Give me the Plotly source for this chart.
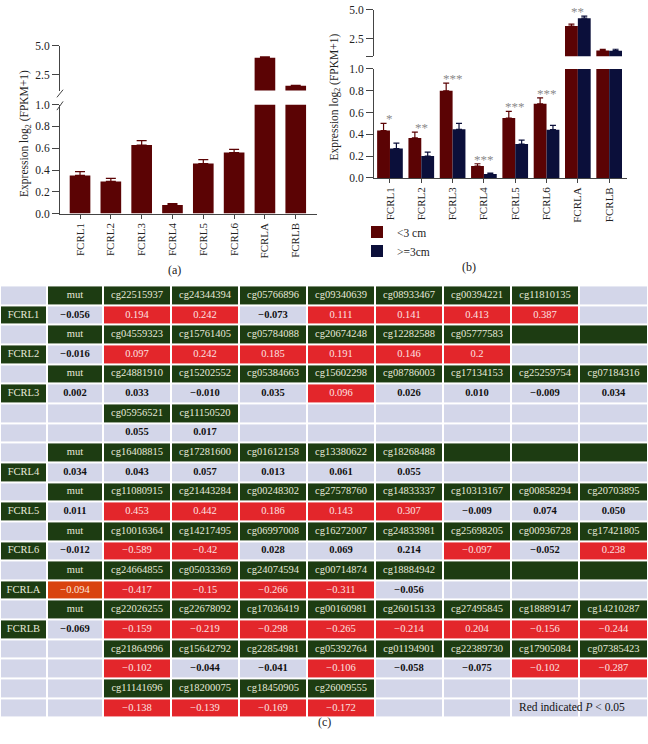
import plotly.graph_objects as go

# ---------------- data ----------------
genes = ["FCRL1", "FCRL2", "FCRL3", "FCRL4", "FCRL5", "FCRL6", "FCRLA", "FCRLB"]
expr_all = [0.35, 0.295, 0.63, 0.08, 0.46, 0.56, 3.95, 1.52]
expr_all_err = [0.035, 0.028, 0.04, 0.012, 0.035, 0.03, 0.08, 0.03]
expr_small = [0.434, 0.367, 0.80, 0.108, 0.55, 0.68, 3.61, 1.50]
expr_small_err = [0.066, 0.053, 0.07, 0.022, 0.06, 0.055, 0.17, 0.10]
expr_large = [0.27, 0.20, 0.446, 0.036, 0.31, 0.443, 4.29, 1.48]
expr_large_err = [0.05, 0.036, 0.054, 0.009, 0.036, 0.04, 0.17, 0.12]
sig_marks = ["*", "**", "***", "***", "***", "***", "**", ""]
legend_names = ["<3 cm", ">=3cm"]

# table rows (10 columns) and cell kinds: L=lavender, G=green, R=red (P<0.05), O=orange
table_rows = [
    ["", "mut", "cg22515937", "cg24344394", "cg05766896", "cg09340639", "cg08933467", "cg00394221", "cg11810135", ""],
    ["FCRL1", "−0.056", "0.194", "0.242", "−0.073", "0.111", "0.141", "0.413", "0.387", ""],
    ["", "mut", "cg04559323", "cg15761405", "cg05784088", "cg20674248", "cg12282588", "cg05777583", "", ""],
    ["FCRL2", "−0.016", "0.097", "0.242", "0.185", "0.191", "0.146", "0.2", "", ""],
    ["", "mut", "cg24881910", "cg15202552", "cg05384663", "cg15602298", "cg08786003", "cg17134153", "cg25259754", "cg07184316"],
    ["FCRL3", "0.002", "0.033", "−0.010", "0.035", "0.096", "0.026", "0.010", "−0.009", "0.034"],
    ["", "", "cg05956521", "cg11150520", "", "", "", "", "", ""],
    ["", "", "0.055", "0.017", "", "", "", "", "", ""],
    ["", "mut", "cg16408815", "cg17281600", "cg01612158", "cg13380622", "cg18268488", "", "", ""],
    ["FCRL4", "0.034", "0.043", "0.057", "0.013", "0.061", "0.055", "", "", ""],
    ["", "mut", "cg11080915", "cg21443284", "cg00248302", "cg27578760", "cg14833337", "cg10313167", "cg00858294", "cg20703895"],
    ["FCRL5", "0.011", "0.453", "0.442", "0.186", "0.143", "0.307", "−0.009", "0.074", "0.050"],
    ["", "mut", "cg10016364", "cg14217495", "cg06997008", "cg16272007", "cg24833981", "cg25698205", "cg00936728", "cg17421805"],
    ["FCRL6", "−0.012", "−0.589", "−0.42", "0.028", "0.069", "0.214", "−0.097", "−0.052", "0.238"],
    ["", "mut", "cg24664855", "cg05033369", "cg24074594", "cg00714874", "cg18884942", "", "", ""],
    ["FCRLA", "−0.094", "−0.417", "−0.15", "−0.266", "−0.311", "−0.056", "", "", ""],
    ["", "mut", "cg22026255", "cg22678092", "cg17036419", "cg00160981", "cg26015133", "cg27495845", "cg18889147", "cg14210287"],
    ["FCRLB", "−0.069", "−0.159", "−0.219", "−0.298", "−0.265", "−0.214", "0.204", "−0.156", "−0.244"],
    ["", "", "cg21864996", "cg15642792", "cg22854981", "cg05392764", "cg01194901", "cg22389730", "cg17905084", "cg07385423"],
    ["", "", "−0.102", "−0.044", "−0.041", "−0.106", "−0.058", "−0.075", "−0.102", "−0.287"],
    ["", "", "cg11141696", "cg18200075", "cg18450905", "cg26009555", "", "", "", ""],
    ["", "", "−0.138", "−0.139", "−0.169", "−0.172", "", "", "", ""],
]
table_kinds = [
    "LGGGGGGGGL",
    "GLRRLRRRRL",
    "LGGGGGGGGG",
    "GLRRRRRRLL",
    "LGGGGGGGGG",
    "GLLLLRLLLL",
    "LLGGLLLLLL",
    "LLLLLLLLLL",
    "LGGGGGGGGG",
    "GLLLLLLLLL",
    "LGGGGGGGGG",
    "GLRRRRRLLL",
    "LGGGGGGGGG",
    "GLRRLLLRLR",
    "LGGGGGGGGG",
    "GORRRRLLLL",
    "LGGGGGGGGG",
    "GLRRRRRRRR",
    "LLGGGGGGGG",
    "LLRLLRLLRR",
    "LLGGGGLLLL",
    "LLRRRRLLLL",
]
note_text = "Red indicated <i>P</i> < 0.05"

# ---------------- style ----------------
W, H = 648, 744
SERIF = "Liberation Serif, Times New Roman, serif"
RED_BAR = "#5b0304"
NAVY_BAR = "#0b0f3a"
AX = "#444444"
kind_code = {"L": 0, "G": 1, "R": 2, "O": 3}
C_L, C_G, C_R, C_O = "#d3d6e9", "#1d3c12", "#e3262b", "#d9430f"
fcolors = {"L": "#111111", "G": "#e8eadb", "R": "#fde2e2", "O": "#fde9df"}
col_edges = [0, 47, 103, 171, 239, 307, 375, 443, 511, 579, 648]  # table column edges (px-like units)


def px_x(p):
    return p / W


def px_y(p):
    return 1 - p / H


fig = go.Figure()
xs = list(range(len(genes)))

# ----- chart (a) -----
for ya, xa in (("y", "x"), ("y2", "x2")):
    fig.add_trace(go.Bar(
        x=xs, y=expr_all, xaxis=xa, yaxis=ya, width=0.67,
        marker=dict(color=RED_BAR, line=dict(width=0)),
        error_y=dict(type="data", array=expr_all_err, arrayminus=[0] * len(genes),
                     symmetric=False, color=RED_BAR, thickness=1.2, width=5),
        showlegend=False, hoverinfo="skip"))

# ----- chart (b) -----
for ya, xa, show in (("y3", "x3", True), ("y4", "x4", False)):
    fig.add_trace(go.Bar(
        x=xs, y=expr_small, xaxis=xa, yaxis=ya, width=0.41, offset=-0.41,
        name=legend_names[0], legendgroup="s", showlegend=show,
        marker=dict(color=RED_BAR, line=dict(width=0)),
        error_y=dict(type="data", array=expr_small_err, arrayminus=[0] * len(genes),
                     symmetric=False, color=RED_BAR, thickness=1.2, width=3),
        hoverinfo="skip"))
    fig.add_trace(go.Bar(
        x=xs, y=expr_large, xaxis=xa, yaxis=ya, width=0.41, offset=0,
        name=legend_names[1], legendgroup="l", showlegend=show,
        marker=dict(color=NAVY_BAR, line=dict(width=0)),
        error_y=dict(type="data", array=expr_large_err, arrayminus=[0] * len(genes),
                     symmetric=False, color=NAVY_BAR, thickness=1.2, width=3),
        hoverinfo="skip"))

# ----- table (c) as a heatmap grid + text -----
nrow = len(table_rows)
ncol = len(table_rows[0])
z = [[kind_code[k] for k in row] for row in table_kinds]
fig.add_trace(go.Heatmap(
    z=z, x=col_edges, y=list(range(nrow)), xaxis="x5", yaxis="y5",
    zmin=0, zmax=3, showscale=False, xgap=2, ygap=2, hoverinfo="skip",
    colorscale=[[0, C_L], [0.166, C_L], [0.166, C_G], [0.5, C_G],
                [0.5, C_R], [0.833, C_R], [0.833, C_O], [1, C_O]],
))

tx, ty, tt, tc = [], [], [], []
for r, (row, kinds) in enumerate(zip(table_rows, table_kinds)):
    for c, (txt, k) in enumerate(zip(row, kinds)):
        if not txt:
            continue
        tx.append((col_edges[c] + col_edges[c + 1]) / 2)
        ty.append(r)
        tt.append("<b>" + txt + "</b>" if k == "L" else txt)
        tc.append(fcolors[k])
fig.add_trace(go.Scatter(
    x=tx, y=ty, text=tt, mode="text", xaxis="x5", yaxis="y5",
    textfont=dict(family=SERIF, size=10.5, color=tc), textposition="middle center",
    showlegend=False, hoverinfo="skip"))

# note in last row
fig.add_trace(go.Scatter(
    x=[col_edges[8] + 8], y=[nrow - 1], text=[note_text], mode="text", xaxis="x5", yaxis="y5",
    textfont=dict(family=SERIF, size=11.5, color="#111"), textposition="middle right",
    showlegend=False, hoverinfo="skip", cliponaxis=False))

# ----- axes -----
tick_font = dict(family=SERIF, size=11.5, color="#222")
common_y = dict(showline=True, linecolor=AX, linewidth=1, ticks="outside", ticklen=7,
                tickcolor=AX, tickfont=tick_font, showgrid=False, zeroline=False, fixedrange=True)
common_x = dict(showline=True, linecolor=AX, linewidth=1, ticks="outside", ticklen=4,
                tickcolor=AX, tickfont=dict(family=SERIF, size=11, color="#222"),
                showgrid=False, zeroline=False,
                tickangle=-90, tickvals=xs, ticktext=genes, fixedrange=True)

fig.update_layout(
    xaxis=dict(domain=[px_x(60), px_x(316.7)], anchor="y", range=[-0.65, 7.68], **common_x),
    yaxis=dict(domain=[px_y(211), px_y(100.3)], anchor="x", range=[0, 1], tickvals=[0, 0.2, 0.4, 0.6, 0.8, 1.0],
               ticktext=["0.0", "0.2", "0.4", "0.6", "0.8", "1.0"], **common_y),
    xaxis2=dict(domain=[px_x(60), px_x(316.7)], anchor="y2", matches="x", visible=False),
    yaxis2=dict(domain=[px_y(86), px_y(40.3)], anchor="x2", range=[1.1, 5], tickvals=[2.5, 5.0],
                ticktext=["2.5", "5.0"], **common_y),
    xaxis3=dict(domain=[px_x(374), px_x(626.7)], anchor="y3", range=[-0.51, 7.56], **common_x),
    yaxis3=dict(domain=[px_y(174.7), px_y(64)], anchor="x3", range=[0, 1], tickvals=[0, 0.2, 0.4, 0.6, 0.8, 1.0],
                ticktext=["0.0", "0.2", "0.4", "0.6", "0.8", "1.0"], **common_y),
    xaxis4=dict(domain=[px_x(374), px_x(626.7)], anchor="y4", matches="x3", visible=False),
    yaxis4=dict(domain=[px_y(51), px_y(4)], anchor="x4", range=[1, 5], tickvals=[1, 2.5, 5.0],
                ticktext=["", "2.5", "5.0"], **common_y),
    xaxis5=dict(domain=[0, 1], anchor="y5", range=[col_edges[0], col_edges[-1]], visible=False,
                fixedrange=True),
    yaxis5=dict(domain=[px_y(723.5), px_y(284)], anchor="x5", range=[nrow - 0.5, -0.5], visible=False,
                fixedrange=True),
    barmode="overlay",
    width=W, height=H,
    margin=dict(l=0, r=0, t=0, b=0),
    paper_bgcolor="white", plot_bgcolor="white",
    showlegend=True,
    legend=dict(x=px_x(357), y=px_y(215), xanchor="left", yanchor="top",
                font=dict(family=SERIF, size=11.5, color="#222"), bgcolor="rgba(0,0,0,0)",
                tracegroupgap=0, itemwidth=30),
    font=dict(family=SERIF),
    hovermode=False,
)

# ----- annotations -----
ann = []
ylabel = "Expression log<sub>2</sub> (FPKM+1)"
ann.append(dict(text=ylabel, x=px_x(25), y=px_y(130), xref="paper", yref="paper", xanchor="center",
                yanchor="middle", textangle=-90, showarrow=False,
                font=dict(family=SERIF, size=11.5, color="#222")))
ann.append(dict(text=ylabel, x=px_x(334), y=px_y(93), xref="paper", yref="paper", xanchor="center",
                yanchor="middle", textangle=-90, showarrow=False,
                font=dict(family=SERIF, size=11.5, color="#222")))
ann.append(dict(text="(a)", x=px_x(166), y=px_y(268), xref="paper", yref="paper", showarrow=False,
                font=dict(family=SERIF, size=12, color="#222")))
ann.append(dict(text="(b)", x=px_x(478), y=px_y(265), xref="paper", yref="paper", showarrow=False,
                font=dict(family=SERIF, size=12, color="#222")))
ann.append(dict(text="(c)", x=px_x(324), y=px_y(737), xref="paper", yref="paper", showarrow=False,
                font=dict(family=SERIF, size=12, color="#222")))

for i, m in enumerate(sig_marks):
    if not m:
        continue
    top = max(expr_small[i] + expr_small_err[i], expr_large[i] + expr_large_err[i])
    yref = "y4" if top > 1 else "y3"
    xref = "x4" if top > 1 else "x3"
    ann.append(dict(text=m, x=i, y=top, xref=xref, yref=yref, showarrow=False, yanchor="bottom",
                    yshift=-5, font=dict(family=SERIF, size=13, color="#8a8a8a")))

fig.update_layout(annotations=ann)

# axis-break slashes on chart (a)
fig.add_shape(type="line", xref="x domain", yref="y2 domain", x0=-0.012, x1=0.012,
              y0=-0.15, y1=0.02, line=dict(color=AX, width=1))
fig.add_shape(type="line", xref="x domain", yref="y domain", x0=-0.012, x1=0.012,
              y0=0.95, y1=1.03, line=dict(color=AX, width=1))

fig.write_html("out.html", config={"displayModeBar": False},
               post_script="document.body.style.margin='0px';document.body.style.overflow='hidden';")
